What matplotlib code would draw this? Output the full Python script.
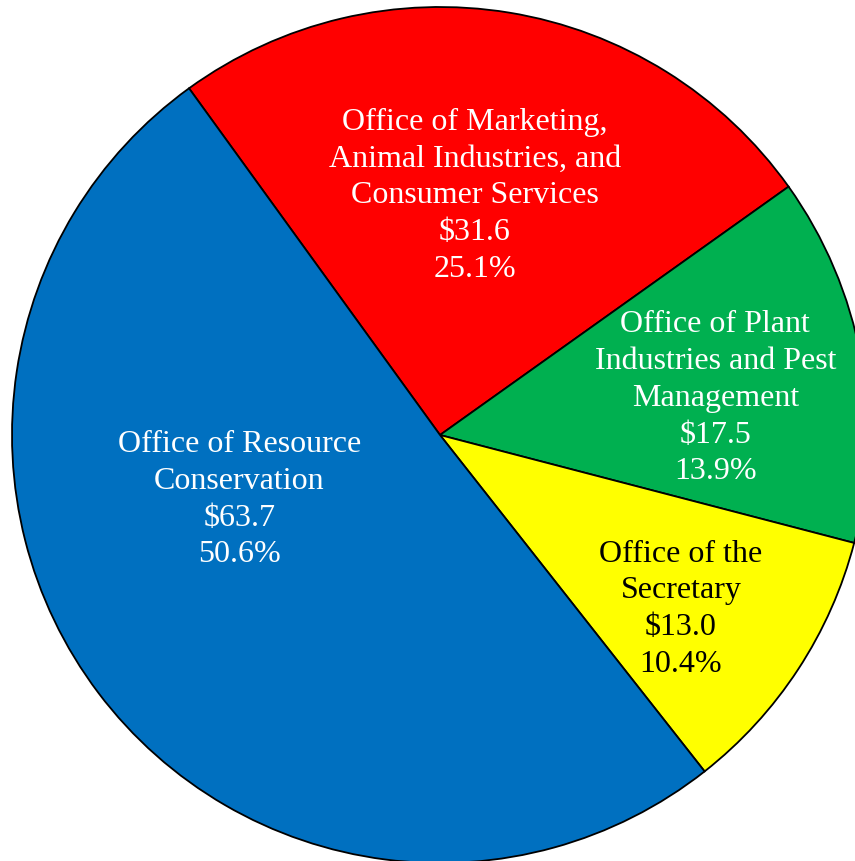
import matplotlib.pyplot as plt
import numpy as np

# budget by office (millions)
offices = ["Office of Marketing,\nAnimal Industries, and\nConsumer Services",
           "Office of Plant\nIndustries and Pest\nManagement",
           "Office of the\nSecretary",
           "Office of Resource\nConservation"]
amounts = [31.6, 17.5, 13.0, 63.7]
shares = [25.1, 13.9, 10.4, 50.6]

colors = ["#FF0000", "#00B050", "#FFFF00", "#0070C0"]
text_colors = ["white", "white", "black", "white"]
# label placement: radius fraction and angle (deg)
label_r = [0.573, 0.65, 0.69, 0.49]
label_ang = [81.8, 8.3, -35.3, 197.0]

W, H = 855, 861
cx, cy, R = 440, 435, 428

fig = plt.figure(figsize=(W / 100, H / 100), dpi=100)
ax = fig.add_axes([0, 0, 1, 1])
ax.pie(amounts, colors=colors, startangle=125.9, counterclock=False,
       radius=1.0, wedgeprops=dict(edgecolor="black", linewidth=1.3))
ax.set_xlim(-cx / R, (W - cx) / R)
ax.set_ylim(-(H - cy) / R, cy / R)
ax.set_aspect("auto")
ax.axis("off")

dy = -3.5 / R  # small nudge down
for name, amt, pct, tc, r, a in zip(offices, amounts, shares, text_colors, label_r, label_ang):
    t = np.deg2rad(a)
    ax.text(r * np.cos(t), r * np.sin(t) + dy, f"{name}\n${amt:.1f}\n{pct:.1f}%",
            ha="center", va="center", color=tc, fontsize=23,
            family="Liberation Serif", linespacing=1.35)

fig.savefig("out.png", dpi=100)
